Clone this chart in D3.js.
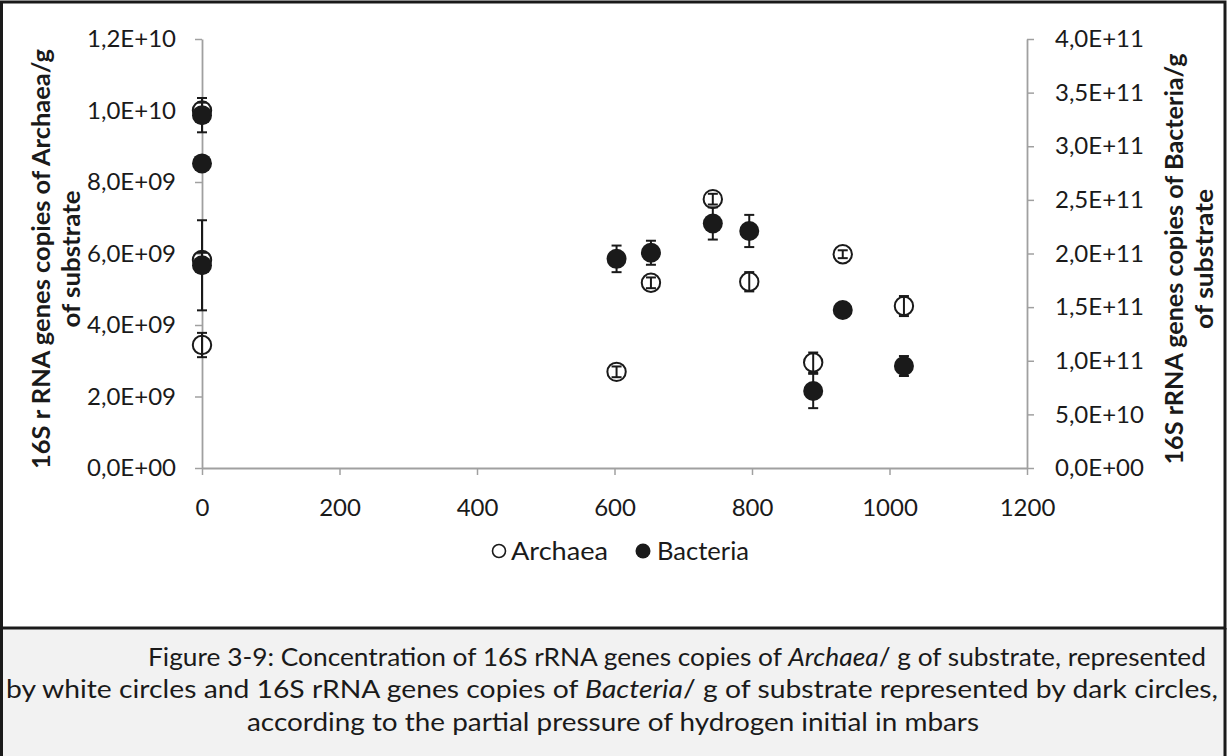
<!DOCTYPE html>
<html>
<head>
<meta charset="utf-8">
<script src="https://cdn.jsdelivr.net/npm/d3@7"></script>
<style>
  html, body { margin: 0; padding: 0; background: #ffffff; }
  svg { display: block; }
  text { font-family: Lato, "Open Sans", sans-serif; fill: #1a1a1a; }
</style>
</head>
<body>
<svg id="chart" width="1227" height="756"></svg>
<script>
// ---- data ----
const pressures = [0, 0, 0, 603, 653, 743, 796, 889, 932, 1021];
const archaeaValues = [1.0e10, 5.82e9, 3.44e9, 2.69e9, 5.18e9, 7.52e9, 5.21e9, 2.95e9, 5.98e9, 4.53e9];
const archaeaErrors = [2.2e8, 2.0e8, 3.4e8, 1.5e8, 1.5e8, 1.5e8, 2.7e8, 2.8e8, 1.1e8, 2.8e8];
const bacteriaValues = [3.29e11, 2.84e11, 1.89e11, 1.95e11, 2.007e11, 2.28e11, 2.21e11, 7.18e10, 1.473e11, 9.51e10];
const bacteriaErrors = [1.6e10, 3e9, 4.2e10, 1.24e10, 1.12e10, 1.5e10, 1.5e10, 1.6e10, 2e9, 9.3e9];
const xTicks = [0, 200, 400, 600, 800, 1000, 1200];
const leftTicks = [0, 2e9, 4e9, 6e9, 8e9, 1e10, 1.2e10];
const rightTicks = [0, 5e10, 1e11, 1.5e11, 2e11, 2.5e11, 3e11, 3.5e11, 4e11];
const seriesNames = ["Archaea", "Bacteria"];
const leftTitle = ["16S r RNA genes copies of Archaea/g", "of substrate"];
const rightTitle = ["16S rRNA genes copies of Bacteria/g", "of substrate"];

const svg = d3.select("#chart");

// frame + caption box
svg.append("rect").attr("x", 0).attr("y", 628).attr("width", 1227).attr("height", 128).attr("fill", "#f2f2f2");
svg.append("rect").attr("x", 1.5).attr("y", 2).attr("width", 1223.5).attr("height", 626)
  .attr("fill", "none").attr("stroke", "#1a1a1a").attr("stroke-width", 3);
svg.append("line").attr("x1", 1.5).attr("x2", 1.5).attr("y1", 628).attr("y2", 756).attr("stroke", "#1a1a1a").attr("stroke-width", 3);
svg.append("line").attr("x1", 1225).attr("x2", 1225).attr("y1", 628).attr("y2", 756).attr("stroke", "#1a1a1a").attr("stroke-width", 3);

// scales
const x = d3.scaleLinear().domain([0, 1200]).range([202, 1027]);
const yL = d3.scaleLinear().domain([0, 1.2e10]).range([468, 39]);
const yR = d3.scaleLinear().domain([0, 4e11]).range([468, 39]);

const fmtE = v => {
  const s = v.toExponential(1);
  const [m, e] = s.split("e");
  const sign = e[0];
  const digits = e.slice(1).padStart(2, "0");
  return m.replace(".", ",") + "E" + sign + digits;
};

const axisStyle = g => {
  g.select(".domain").attr("stroke", "#a0a0a0").attr("stroke-width", 1.8);
  g.selectAll(".tick line").attr("stroke", "#a0a0a0").attr("stroke-width", 1.5);
  g.selectAll(".tick text").attr("font-size", 24).attr("fill", "#1a1a1a")
    .style("font-family", "Lato, 'Open Sans', sans-serif");
};

svg.append("g").attr("transform", "translate(0,468)")
  .call(d3.axisBottom(x).tickValues(xTicks).tickSize(7).tickPadding(24).tickSizeOuter(0).tickFormat(d3.format("d")))
  .call(axisStyle);
svg.append("g").attr("transform", "translate(202,0)")
  .call(d3.axisLeft(yL).tickValues(leftTicks).tickSize(7).tickPadding(19).tickSizeOuter(0).tickFormat(fmtE))
  .call(axisStyle);
svg.append("g").attr("transform", "translate(1027,0)")
  .call(d3.axisRight(yR).tickValues(rightTicks).tickSize(7).tickPadding(21).tickSizeOuter(0).tickFormat(fmtE))
  .call(axisStyle);

// axis titles
const titleGroup = (lines, xs, lens) => {
  lines.forEach((t, i) => {
    svg.append("text")
      .attr("transform", `translate(${xs[i]},259) rotate(-90)`)
      .attr("text-anchor", "middle").attr("dominant-baseline", "central")
      .attr("font-size", 25).attr("font-weight", "bold")
      .attr("textLength", lens[i]).attr("lengthAdjust", "spacingAndGlyphs")
      .text(t);
  });
};
titleGroup(leftTitle, [40, 70], [420, 137]);
titleGroup(rightTitle, [1173, 1203], [411, 140]);

// series
const archaea = pressures.map((p, i) => ({ x: p, y: archaeaValues[i], e: archaeaErrors[i] }));
const bacteria = pressures.map((p, i) => ({ x: p, y: bacteriaValues[i], e: bacteriaErrors[i] }));

function drawSeries(data, yScale, filled) {
  const g = svg.append("g");
  const eb = g.selectAll(".eb").data(data).enter().append("g").attr("stroke", "#1a1a1a").attr("stroke-width", 2);
  eb.append("line").attr("x1", d => x(d.x)).attr("x2", d => x(d.x))
    .attr("y1", d => yScale(d.y - d.e)).attr("y2", d => yScale(d.y + d.e));
  eb.append("line").attr("x1", d => x(d.x) - 5).attr("x2", d => x(d.x) + 5)
    .attr("y1", d => yScale(d.y - d.e)).attr("y2", d => yScale(d.y - d.e));
  eb.append("line").attr("x1", d => x(d.x) - 5).attr("x2", d => x(d.x) + 5)
    .attr("y1", d => yScale(d.y + d.e)).attr("y2", d => yScale(d.y + d.e));
  g.selectAll("circle").data(data).enter().append("circle")
    .attr("cx", d => x(d.x)).attr("cy", d => yScale(d.y))
    .attr("r", filled ? 10 : 9.2)
    .attr("fill", filled ? "#1a1a1a" : "none")
    .attr("stroke", "#1a1a1a").attr("stroke-width", filled ? 0 : 2);
}
drawSeries(archaea, yL, false);
drawSeries(bacteria, yR, true);

// legend
const legend = svg.append("g");
legend.append("circle").attr("cx", 499).attr("cy", 551).attr("r", 6.5).attr("fill", "#fff").attr("stroke", "#1a1a1a").attr("stroke-width", 1.6);
legend.append("text").attr("x", 511).attr("y", 560).attr("font-size", 25).attr("textLength", 97).attr("lengthAdjust", "spacingAndGlyphs").text(seriesNames[0]);
legend.append("circle").attr("cx", 643).attr("cy", 551).attr("r", 7.5).attr("fill", "#1a1a1a");
legend.append("text").attr("x", 657).attr("y", 560).attr("font-size", 25).attr("textLength", 92).attr("lengthAdjust", "spacingAndGlyphs").text(seriesNames[1]);

// caption (condensed like the original)
const cap = svg.append("g").attr("font-size", 25);
const l1 = cap.append("text").attr("x", 148).attr("y", 666)
  .attr("textLength", 1058).attr("lengthAdjust", "spacingAndGlyphs");
l1.append("tspan").text("Figure 3-9: Concentration of 16S rRNA genes copies of ");
l1.append("tspan").attr("font-style", "italic").text("Archaea");
l1.append("tspan").text("/ g of substrate, represented");
const l2 = cap.append("text").attr("x", 6).attr("y", 698)
  .attr("textLength", 1212).attr("lengthAdjust", "spacingAndGlyphs");
l2.append("tspan").text("by white circles and 16S rRNA genes copies of ");
l2.append("tspan").attr("font-style", "italic").text("Bacteria");
l2.append("tspan").text("/ g of substrate represented by dark circles,");
cap.append("text").attr("x", 247).attr("y", 731)
  .attr("textLength", 732).attr("lengthAdjust", "spacingAndGlyphs")
  .text("according to the partial pressure of hydrogen initial in mbars");
</script>
</body>
</html>
